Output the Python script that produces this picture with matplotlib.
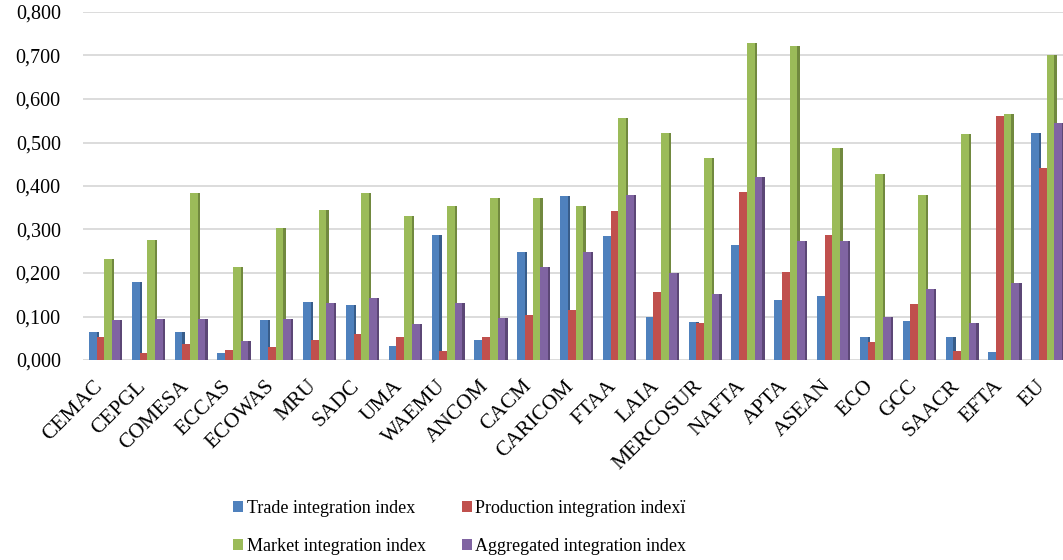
import numpy as np
import matplotlib
matplotlib.use("Agg")
import matplotlib.pyplot as plt
from matplotlib.ticker import FuncFormatter
from matplotlib.transforms import ScaledTranslation

plt.rcParams['font.family'] = ['Liberation Serif', 'DejaVu Serif']

# blocs and index values
blocs = ['CEMAC', 'CEPGL', 'COMESA', 'ECCAS', 'ECOWAS', 'MRU', 'SADC', 'UMA',
         'WAEMU', 'ANCOM', 'CACM', 'CARICOM', 'FTAA', 'LAIA', 'MERCOSUR',
         'NAFTA', 'APTA', 'ASEAN', 'ECO', 'GCC', 'SAACR', 'EFTA', 'EU']
trade = [0.064, 0.180, 0.064, 0.016, 0.092, 0.133, 0.127, 0.032, 0.287, 0.046,
         0.249, 0.376, 0.285, 0.099, 0.087, 0.264, 0.138, 0.146, 0.054, 0.090,
         0.053, 0.018, 0.521]
production = [0.053, 0.017, 0.036, 0.024, 0.030, 0.047, 0.059, 0.052, 0.021,
              0.052, 0.104, 0.115, 0.343, 0.156, 0.085, 0.387, 0.203, 0.287,
              0.042, 0.128, 0.021, 0.561, 0.441]
market = [0.232, 0.276, 0.384, 0.214, 0.304, 0.344, 0.385, 0.332, 0.355, 0.373,
          0.373, 0.354, 0.556, 0.521, 0.465, 0.728, 0.722, 0.488, 0.428, 0.380,
          0.519, 0.565, 0.701]
aggregated = [0.091, 0.094, 0.094, 0.044, 0.094, 0.130, 0.142, 0.083, 0.130,
              0.096, 0.213, 0.249, 0.380, 0.201, 0.152, 0.421, 0.274, 0.274,
              0.098, 0.163, 0.085, 0.178, 0.545]

series = [
    ('Trade integration index', trade, '#4F81BD', '#385D8A'),
    ('Production integration indexï', production, '#C0504D', '#8C3836'),
    ('Market integration index', market, '#9BBB59', '#71893F'),
    ('Aggregated integration index', aggregated, '#8064A2', '#5C4776'),
]

fig = plt.figure(figsize=(10.63, 5.6), dpi=100)
ax = fig.add_axes([83 / 1063, 200 / 560, 985 / 1063, 348 / 560])

x = np.arange(len(blocs))
w = 0.18
depth = 0.055
handles = []
for i, (name, vals, col, dark) in enumerate(series):
    pos = x + (i - 1.5) * w
    # dark side face to fake the 3D look
    ax.bar(pos + w / 2, vals, depth, align='edge', color=dark, zorder=2 + i)
    handles.append(ax.bar(pos, vals, w, color=col, label=name, zorder=2 + i))

ax.set_xlim(-0.5, 22.5)
ax.set_ylim(0, 0.8)
ax.set_yticks(np.arange(0, 0.81, 0.1))
ax.yaxis.set_major_formatter(FuncFormatter(lambda v, p: f'{v:.3f}'.replace('.', ',')))
ax.grid(axis='y', color='#d9d9d9', lw=1.3, zorder=0)
ax.set_axisbelow(True)
for s in ax.spines.values():
    s.set_visible(False)
ax.tick_params(axis='y', length=0, pad=16, labelsize=14.5)
ax.tick_params(axis='x', length=0, pad=12)
ax.set_xticks(x)
ax.set_xticklabels(blocs, rotation=45, ha='right', va='top',
                   rotation_mode='anchor', fontsize=15.5)
shift = ScaledTranslation(-0.11, 0, fig.dpi_scale_trans)
for lbl in ax.get_xticklabels():
    lbl.set_transform(lbl.get_transform() + shift)

# legend fills column-wise, so order it to read row-wise like the original
order = [0, 2, 1, 3]
fig.legend([handles[k] for k in order], [series[k][0] for k in order],
           loc='upper left', bbox_to_anchor=(233 / 1063, 1 - 500 / 560),
           ncol=2, frameon=False, fontsize=13, borderaxespad=0, borderpad=0,
           handlelength=0.55, handleheight=0.55, handletextpad=0.2,
           columnspacing=2.0, labelspacing=1.15)

fig.savefig('out.png', dpi=100)
